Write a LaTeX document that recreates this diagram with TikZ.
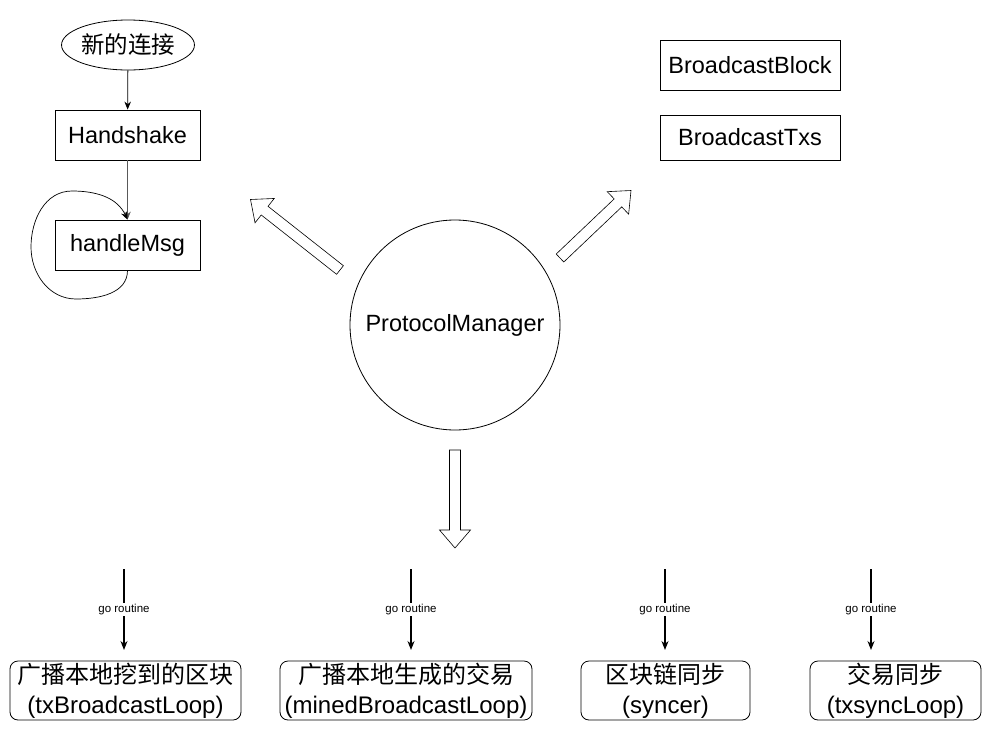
\documentclass[tikz,border=0pt]{standalone}
\usepackage{fontspec}
\setmainfont{Liberation Sans}
\newfontfamily\cjk{Noto Sans CJK SC}
\usetikzlibrary{arrows.meta,calc,shapes.geometric}
\newcommand\hollowarrow[2]{%
  \coordinate (hh) at ($(#2)!18pt!(#1)$);
  \draw[hollow]
   ($(#1)!5.5pt!90:(#2)$) -- ($(hh)!5.5pt!90:(#2)$) -- ($(hh)!15.5pt!90:(#2)$) -- (#2)
   -- ($(hh)!15.5pt!-90:(#2)$) -- ($(hh)!5.5pt!-90:(#2)$) -- ($(#1)!5.5pt!-90:(#2)$) -- cycle;}
\begin{document}
\begin{tikzpicture}[x=1pt,y=-1pt,
  txt/.style={font=\fontsize{23.5}{28}\selectfont},
  box/.style={draw,line width=0.8pt,inner sep=0pt,txt},
  rbox/.style={draw,line width=0.8pt,rounded corners=8pt,inner sep=0pt,align=center,font=\fontsize{24}{30}\selectfont},
  conn/.style={line width=0.8pt,-{Stealth[length=8pt,width=6.5pt]}},
  goarrow/.style={line width=1.3pt,-{Stealth[length=9pt,width=7pt]}},
  lab/.style={fill=white,inner sep=1.5pt,font=\fontsize{11.5}{13}\selectfont},
  hollow/.style={line width=0.6pt,fill=white,line join=miter}]
\useasboundingbox (0,0) rectangle (991,731);

% left column
\node[draw,ellipse,line width=0.8pt,minimum width=110pt,minimum height=50pt,inner sep=0pt,font=\cjk\fontsize{23.5}{28}\selectfont] (conn) at (128,45) {新的连接};
\node[box,minimum width=145pt,minimum height=50pt] (hs) at (127.5,135) {Handshake};
\node[box,minimum width=145pt,minimum height=50pt] (hm) at (127.5,245) {handleMsg};
\draw[conn] (conn) -- (hs);
\draw[conn,draw=black!65] (hs) -- (hm);
\draw[line width=0.7pt,-{Stealth[length=8pt,width=6.5pt]}] (hm.south) to[out=-90,in=0] (76,299) to[out=180,in=-90] (31,247) to[out=90,in=180] (72,191) to[out=0,in=115] (hm.north);

% right boxes
\node[box,minimum width=180pt,minimum height=50pt] (bb) at (750,65) {BroadcastBlock};
\node[box,minimum width=180pt,minimum height=45pt] (bt) at (750,137.5) {BroadcastTxs};

% center
\node[draw,circle,line width=0.8pt,minimum size=210pt,inner sep=0pt,txt] (pm) at (455,325) {ProtocolManager};

% hollow arrows
\coordinate (ula) at (340,270);
\coordinate (ulb) at (250.5,199.5);
\coordinate (ura) at (560,258);
\coordinate (urb) at (631,190.5);
\coordinate (dna) at (455,450);
\coordinate (dnb) at (455,548);
\hollowarrow{ula}{ulb}
\hollowarrow{ura}{urb}
\hollowarrow{dna}{dnb}

% bottom boxes
\node[rbox,minimum width=231pt,minimum height=59pt] (b1) at (125.5,690.5) {{\cjk 广播本地挖到的区块}\\(txBroadcastLoop)};
\node[rbox,minimum width=252pt,minimum height=59pt] (b2) at (406,690.5) {{\cjk 广播本地生成的交易}\\(minedBroadcastLoop)};
\node[rbox,minimum width=169pt,minimum height=59pt] (b3) at (665.5,690.5) {{\cjk 区块链同步}\\(syncer)};
\node[rbox,minimum width=171pt,minimum height=59pt] (b4) at (895.5,690.5) {{\cjk 交易同步}\\(txsyncLoop)};

\coordinate (g1s) at (124,569); \coordinate (g1e) at (124,650);
\coordinate (g2s) at (411,569); \coordinate (g2e) at (411,650);
\coordinate (g3s) at (665,569); \coordinate (g3e) at (665,650);
\coordinate (g4s) at (871,569); \coordinate (g4e) at (871,650);
\draw[goarrow] (g1s) -- node[lab]{go routine} (g1e);
\draw[goarrow] (g2s) -- node[lab]{go routine} (g2e);
\draw[goarrow] (g3s) -- node[lab]{go routine} (g3e);
\draw[goarrow] (g4s) -- node[lab]{go routine} (g4e);
\end{tikzpicture}
\end{document}
